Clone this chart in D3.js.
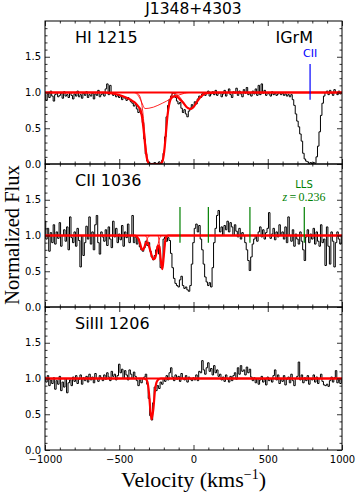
<!DOCTYPE html>
<html><head><meta charset="utf-8">
<script src="https://cdn.jsdelivr.net/npm/d3@7"></script>
<style>body{margin:0;background:#fff}</style>
</head><body>
<svg id="chart" width="357" height="494"></svg>
<script>
// ---------- DATA ----------
const velocity = d3.range(-1000, 1001, 10); // km/s grid of the spectra

const hiFlux = [
0.97,0.89,0.98,0.93,1.02,0.95,0.88,0.97,1.0,0.94,
0.96,0.99,0.92,1.01,0.95,0.97,0.93,1.0,0.96,0.91,
0.98,0.95,1.02,0.94,0.97,0.92,0.99,0.96,1.01,0.93,
0.97,0.95,0.99,0.91,0.98,0.96,1.03,0.94,0.97,1.0,
0.95,1.05,1.12,0.97,1.1,0.99,0.96,0.98,0.94,0.96,
0.93,0.95,0.9,0.94,0.92,0.89,0.93,0.9,0.87,0.85,
0.81,0.83,0.77,0.72,0.78,0.7,0.58,0.35,0.14,0.04,
0.02,0.01,0.0,0.01,0.02,0.0,0.01,0.03,0.0,0.05,
0.15,0.38,0.66,0.82,0.9,0.95,0.99,1.0,0.93,0.88,
0.84,0.86,0.78,0.72,0.76,0.7,0.66,0.74,0.78,0.83,
0.8,0.87,0.84,0.91,0.95,0.93,0.98,1.0,0.96,0.99,
1.02,0.95,0.98,1.01,0.97,1.03,0.96,0.99,1.0,0.94,
0.98,1.03,0.95,1.0,1.05,0.97,0.93,1.01,0.99,1.06,
0.96,1.02,0.98,0.94,1.04,0.99,1.07,0.97,1.0,0.95,
1.02,0.98,1.05,0.96,1.1,0.97,1.12,0.99,1.03,0.96,
1.0,0.98,0.95,1.01,0.97,0.99,0.96,0.98,1.0,0.97,
0.99,0.96,0.98,0.95,0.97,0.94,0.97,0.9,0.82,0.7,
0.6,0.52,0.42,0.32,0.15,0.07,0.04,0.03,0.01,0.02,
0.0,0.02,0.01,0.1,0.25,0.45,0.68,0.85,0.95,1.0,
1.02,0.97,1.03,0.99,0.96,1.04,1.0,0.97,1.02,0.98,1.0];

const ciiFlux = [
1.2,0.95,1.1,0.78,1.04,0.9,1.15,0.88,1.05,0.96,
1.18,0.85,1.0,1.08,0.92,1.12,0.8,1.26,0.97,0.9,
1.05,0.85,1.1,0.93,0.56,1.0,0.72,0.9,1.13,0.95,
1.26,0.88,1.05,0.8,1.15,1.28,0.9,0.74,1.05,0.98,
0.92,1.08,0.86,1.12,0.95,0.83,1.2,0.98,1.1,0.9,
1.02,0.94,1.14,0.85,1.05,0.97,1.16,0.9,1.0,1.28,
0.9,0.98,0.88,0.95,0.84,0.8,0.78,0.83,0.92,0.86,
0.9,0.78,0.7,0.66,0.72,0.8,0.85,0.74,0.55,0.6,
0.95,0.98,0.92,0.97,0.93,0.75,0.55,0.4,0.33,0.3,
0.28,0.38,0.43,0.3,0.26,0.28,0.24,0.22,0.3,0.6,
0.9,1.1,1.16,1.05,1.14,0.95,0.8,0.6,0.42,0.35,
0.3,0.34,0.28,0.55,0.9,1.1,1.28,1.35,1.05,1.12,
1.0,1.14,1.08,1.2,1.05,1.18,1.12,1.0,1.15,1.06,
0.98,1.1,0.95,1.04,1.0,0.9,0.8,0.65,0.51,0.7,
0.88,0.95,1.0,0.92,1.05,1.12,0.98,1.08,0.95,1.04,
1.1,1.32,0.96,1.02,1.1,0.94,1.05,0.98,1.15,1.0,
1.05,0.95,1.12,0.9,1.26,1.0,0.92,1.08,0.85,1.02,
0.95,0.88,1.05,0.92,0.8,0.65,0.98,1.08,0.9,1.02,
0.95,1.1,0.88,1.05,0.92,0.85,1.15,0.9,0.95,0.58,
1.12,0.85,0.6,1.05,0.92,0.56,0.9,1.05,0.95,0.88,1.0];

const siFlux = [
1.02,0.95,1.04,0.9,0.98,0.93,1.01,0.85,0.97,0.92,
1.03,0.83,0.95,0.88,1.0,0.8,0.94,0.98,0.9,1.02,
0.96,1.04,0.93,0.99,1.05,0.92,1.01,0.97,1.03,0.95,
1.06,0.98,1.02,0.94,1.07,1.0,0.96,1.04,1.01,0.97,
1.05,0.99,1.08,1.02,0.97,1.1,1.03,1.06,0.98,1.04,
1.2,1.08,1.13,1.0,1.11,1.05,0.98,1.12,1.06,1.0,
1.09,1.03,0.97,0.9,0.98,0.94,1.0,1.02,1.06,0.92,
0.72,0.48,0.42,0.66,0.88,0.83,0.9,0.86,0.95,0.92,
1.0,0.96,1.04,0.98,1.08,1.15,1.02,0.97,1.05,0.99,
1.03,0.96,1.07,1.0,0.98,1.04,0.95,1.02,0.99,0.97,
1.01,0.98,1.05,0.97,1.1,1.08,1.25,1.12,1.06,1.15,
1.22,1.1,1.14,1.05,1.18,1.08,1.12,1.03,1.06,0.98,
1.02,0.96,1.05,0.99,0.95,1.03,0.97,1.04,1.08,0.99,
1.15,1.06,1.18,1.1,1.12,1.05,1.16,1.08,1.13,1.02,
0.97,1.01,0.94,1.0,0.92,0.98,1.03,0.95,0.99,0.91,
1.02,0.97,1.0,0.95,1.04,1.12,0.98,1.05,0.93,1.0,
0.96,1.04,0.91,0.99,1.02,0.94,1.06,0.97,0.9,1.0,
1.03,1.23,0.98,1.05,0.94,1.01,0.97,1.04,0.92,1.0,
0.98,1.05,0.95,1.02,0.93,1.0,1.06,0.96,0.91,0.9,
0.92,0.89,0.97,1.02,0.95,1.01,1.11,0.94,0.98,0.93,1.0];

// Fit models (Voigt components)
const hiTotalV = [-1000,-600,-560,-520,-480,-440,-410,-390,-370,-355,-345,-335,-325,-315,-305,-295,-230,-215,-205,-195,-185,-175,-165,-155,-140,-125,-110,-90,-70,-50,-35,-24,-10,5,20,40,60,80,110,150,1000];
const hiTotalF = [1,1,0.99,0.975,0.95,0.915,0.88,0.85,0.8,0.74,0.64,0.46,0.25,0.09,0.02,0,0,0.015,0.07,0.22,0.45,0.68,0.82,0.9,0.94,0.95,0.94,0.9,0.86,0.805,0.78,0.77,0.78,0.81,0.86,0.92,0.96,0.985,0.995,1,1];
const hiCompAV = [-1000,-390,-375,-362,-352,-342,-332,-322,-312,-302,-295,-230,-215,-205,-195,-185,-175,-165,-155,-140,-120,-100,1000];
const hiCompAF = [1,1,0.985,0.95,0.88,0.74,0.52,0.28,0.1,0.02,0,0,0.015,0.07,0.22,0.45,0.68,0.84,0.93,0.98,0.995,1,1];
const hiCompBV = [-1000,-400,-385,-370,-355,-340,-327,-300,-270,-240,-210,-181,-150,-120,-91,-60,-30,1000];
const hiCompBF = [1,1,0.985,0.95,0.89,0.82,0.775,0.78,0.795,0.82,0.85,0.88,0.92,0.95,0.97,0.99,1,1];
const hiCompCV = [-1000,-150,-130,-110,-90,-70,-50,-35,-24,-10,5,20,40,60,80,100,130,1000];
const hiCompCF = [1,1,0.99,0.97,0.93,0.87,0.81,0.78,0.77,0.78,0.81,0.86,0.92,0.96,0.985,0.995,1,1];

const ciiTotalV = [-1000,-400,-390,-380,-370,-360,-350,-340,-330,-320,-310,-300,-290,-280,-270,-260,-250,-240,-230,-220,-210,-200,-190,-180,-170,1000];
const ciiTotalF = [1,1,0.995,0.98,0.95,0.89,0.82,0.8,0.84,0.9,0.9,0.85,0.78,0.71,0.67,0.68,0.75,0.86,0.845,0.65,0.53,0.72,0.93,0.99,1,1];
const ciiComp1V = [-1000,-400,-380,-370,-360,-350,-340,-330,-320,-310,-300,-290,1000];
const ciiComp1F = [1,1,0.98,0.95,0.89,0.82,0.8,0.84,0.91,0.96,0.99,1,1];
const ciiComp2V = [-1000,-330,-320,-310,-300,-290,-280,-270,-260,-250,-240,-230,-220,-210,1000];
const ciiComp2F = [1,1,0.99,0.94,0.86,0.78,0.71,0.67,0.68,0.75,0.86,0.95,0.99,1,1];
const ciiComp3V = [-1000,-240,-230,-220,-210,-200,-190,-180,-170,1000];
const ciiComp3F = [1,1,0.89,0.65,0.53,0.72,0.93,0.99,1,1];

const siTotalV = [-1000,-340,-320,-310,-300,-290,-282,-270,-260,-250,-240,-220,1000];
const siTotalF = [1,1,0.99,0.95,0.8,0.55,0.43,0.58,0.82,0.94,0.98,1,1];

// Line markers
const cIIMarkV = [785];
const llsMarkV = [-91, 100, 380, 746];
const markerRange = [0.9, 1.4];

const panelLabels = ["HI 1215", "CII 1036", "SiIII 1206"];
const xMajorTicks = [-1000, -500, 0, 500, 1000];
const yMajorTicks = [0, 0.5, 1.0, 1.5];

// ---------- LAYOUT ----------
const svg = d3.select("#chart");
const X0 = 45, X1 = 342, TOP = 21, PH = 143;
const x = d3.scaleLinear().domain([-1000, 1000]).range([X0, X1]);
const xMinor = d3.range(-900, 1000, 100).filter(v => v % 500 !== 0);
const yMinor = d3.range(1, 20).map(d => d / 10).filter(v => Math.abs(v * 2 - Math.round(v * 2)) > 1e-6);
const sans = "DejaVu Sans, sans-serif";
const serif = "Liberation Serif, DejaVu Serif, serif";

const panels = [
  {flux: hiFlux, comps: [[hiCompAV, hiCompAF], [hiCompBV, hiCompBF], [hiCompCV, hiCompCF]], total: [hiTotalV, hiTotalF]},
  {flux: ciiFlux, comps: [[ciiComp1V, ciiComp1F], [ciiComp2V, ciiComp2F], [ciiComp3V, ciiComp3F]], total: [ciiTotalV, ciiTotalF]},
  {flux: siFlux, comps: [], total: [siTotalV, siTotalF]}
];

panels.forEach((p, i) => {
  const y0 = TOP + i * PH, y1 = TOP + (i + 1) * PH;
  const y = d3.scaleLinear().domain([0, 2]).range([y1, y0]);
  const g = svg.append("g");
  const clipId = "clip" + i;
  svg.append("clipPath").attr("id", clipId).append("rect")
    .attr("x", X0).attr("y", y0).attr("width", X1 - X0).attr("height", PH);
  const pg = g.append("g").attr("clip-path", `url(#${clipId})`);

  // spectrum (steps)
  const stepLine = d3.line().x((d, k) => x(velocity[k])).y(d => y(d)).curve(d3.curveStep);
  pg.append("path").attr("d", stepLine(p.flux))
    .attr("fill", "none").attr("stroke", "#000").attr("stroke-width", 1);

  // continuum
  pg.append("line").attr("x1", X0).attr("x2", X1).attr("y1", y(1)).attr("y2", y(1))
    .attr("stroke", "#ff0000").attr("stroke-width", 2);

  const fitLine = d3.line().x(d => x(d[0])).y(d => y(d[1])).curve(d3.curveMonotoneX);
  p.comps.forEach(([vv, ff]) => {
    pg.append("path").attr("d", fitLine(vv.map((v, k) => [v, ff[k]])))
      .attr("fill", "none").attr("stroke", "#ff0000").attr("stroke-width", 1).attr("opacity", 0.85);
  });
  const [tv, tf] = p.total;
  pg.append("path").attr("d", fitLine(tv.map((v, k) => [v, tf[k]])))
    .attr("fill", "none").attr("stroke", "#ff0000").attr("stroke-width", 2.2);

  // axes
  const ax = (sel) => sel.call(s => s.select(".domain").remove())
    .call(s => s.selectAll(".tick line").attr("stroke", "#000").attr("stroke-width", 0.8))
    .call(s => s.selectAll("text").attr("font-family", sans).attr("font-size", 10).attr("fill", "#000"));
  g.append("g").attr("transform", `translate(${X0},0)`)
    .call(d3.axisLeft(y).tickValues(yMajorTicks).tickSize(-5).tickPadding(4).tickFormat(d3.format(".1f"))).call(ax);
  g.append("g").attr("transform", `translate(${X0},0)`)
    .call(d3.axisLeft(y).tickValues(yMinor).tickSize(-2.5).tickFormat("")).call(ax);
  g.append("g").attr("transform", `translate(${X1},0)`)
    .call(d3.axisRight(y).tickValues(yMajorTicks).tickSize(-5).tickFormat("")).call(ax);
  g.append("g").attr("transform", `translate(${X1},0)`)
    .call(d3.axisRight(y).tickValues(yMinor).tickSize(-2.5).tickFormat("")).call(ax);
  g.append("g").attr("transform", `translate(0,${y1})`)
    .call(d3.axisBottom(x).tickValues(xMajorTicks).tickSize(-5).tickPadding(6)
      .tickFormat(i === 2 ? d3.format("d") : "")).call(ax);
  g.append("g").attr("transform", `translate(0,${y1})`)
    .call(d3.axisBottom(x).tickValues(xMinor).tickSize(-2.5).tickFormat("")).call(ax);
  g.append("g").attr("transform", `translate(0,${y0})`)
    .call(d3.axisTop(x).tickValues(xMajorTicks).tickSize(-5).tickFormat("")).call(ax);
  g.append("g").attr("transform", `translate(0,${y0})`)
    .call(d3.axisTop(x).tickValues(xMinor).tickSize(-2.5).tickFormat("")).call(ax);

  g.append("rect").attr("x", X0).attr("y", y0).attr("width", X1 - X0).attr("height", PH)
    .attr("fill", "none").attr("stroke", "#000").attr("stroke-width", 1);

  g.append("text").attr("x", 75).attr("y", y0 + 22).text(panelLabels[i])
    .attr("font-family", sans).attr("font-size", 16).attr("fill", "#000");

  if (i === 0) {
    g.append("text").attr("x", 313).attr("y", y0 + 22).attr("text-anchor", "end").text("IGrM")
      .attr("font-family", sans).attr("font-size", 16).attr("fill", "#000");
    cIIMarkV.forEach(v => {
      g.append("line").attr("x1", x(v)).attr("x2", x(v)).attr("y1", y(markerRange[0])).attr("y2", y(markerRange[1]))
        .attr("stroke", "#0000ff").attr("stroke-width", 1.2);
      g.append("text").attr("x", x(v)).attr("y", y0 + 35.5).attr("text-anchor", "middle").text("CII")
        .attr("font-family", sans).attr("font-size", 11).attr("fill", "#0000ff");
    });
  }
  if (i === 1) {
    llsMarkV.forEach(v => {
      g.append("line").attr("x1", x(v)).attr("x2", x(v)).attr("y1", y(markerRange[0])).attr("y2", y(markerRange[1]))
        .attr("stroke", "#008000").attr("stroke-width", 1.2);
    });
    g.append("text").attr("x", 304).attr("y", y0 + 23.5).attr("text-anchor", "middle").text("LLS")
      .attr("font-family", sans).attr("font-size", 10).attr("fill", "#008000");
    const zt = g.append("text").attr("x", 304).attr("y", y0 + 37).attr("text-anchor", "middle")
      .attr("font-family", serif).attr("font-size", 12).attr("fill", "#008000");
    zt.append("tspan").attr("font-style", "italic").text("z");
    zt.append("tspan").text("\u2009=\u20090.236");
  }
});

// title
svg.append("text").attr("x", (X0 + X1) / 2).attr("y", 14).attr("text-anchor", "middle")
  .text("J1348+4303").attr("font-family", sans).attr("font-size", 15.5).attr("fill", "#000");

// x label
const xl = svg.append("text").attr("x", (X0 + X1) / 2).attr("y", 487).attr("text-anchor", "middle")
  .attr("font-family", serif).attr("font-size", 22).attr("fill", "#000");
xl.append("tspan").text("Velocity (kms");
xl.append("tspan").attr("dy", -8).attr("font-size", 14).text("\u22121");
xl.append("tspan").attr("dy", 8).text(")");

// y label
svg.append("text").attr("transform", "translate(18.5,235) rotate(-90)").attr("text-anchor", "middle")
  .attr("font-family", serif).attr("font-size", 20.5).attr("fill", "#000").text("Normalized Flux");
</script>
</body></html>
